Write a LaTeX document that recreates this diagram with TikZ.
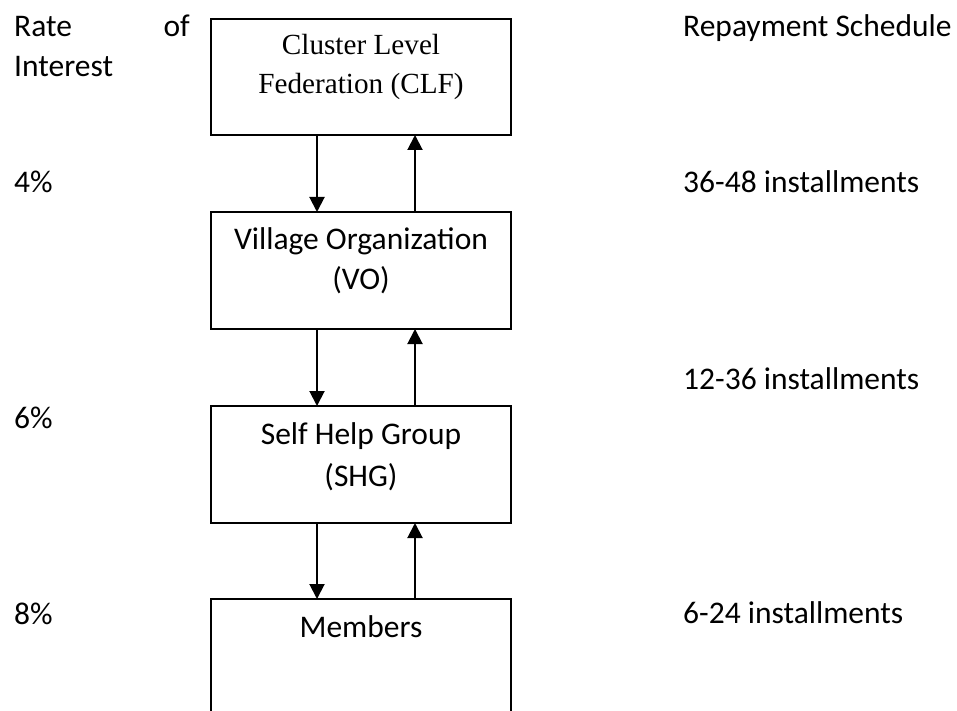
\documentclass[tikz,border=0pt]{standalone}
\usepackage{fontspec}
\setmainfont{Carlito}
\newfontfamily\timesfont{Liberation Serif}
\usetikzlibrary{arrows.meta}
\begin{document}
\begin{tikzpicture}[x=1pt,y=-1pt,
  box/.style={draw=none,minimum width=300pt,inner sep=0pt,outer sep=0pt},
  frame/.style={line width=2pt,black},
  txt/.style={inner sep=0pt,anchor=base,font=\fontsize{31.5}{38}\selectfont},
  txtw/.style={txt,anchor=base west},
  ser/.style={inner sep=0pt,anchor=base,font=\timesfont\fontsize{29.2}{35}\selectfont},
  arr/.style={line width=2pt,-{Triangle[width=15pt,length=15pt]}}]
\useasboundingbox (0,0) rectangle (957,711);
\fill[white] (0,0) rectangle (957,711);

% boxes
\node[box,minimum height=116pt] (clf) at (361,77) {};
\node[box,minimum height=117pt] (vo) at (361,270.5) {};
\node[box,minimum height=117pt] (shg) at (361,464.5) {};
\node[box,minimum height=114pt] (mem) at (361,656) {};
\draw[frame] (clf.south west) rectangle (clf.north east);
\draw[frame] (vo.south west) rectangle (vo.north east);
\draw[frame] (shg.south west) rectangle (shg.north east);
\draw[frame] (mem.south west) |- (mem.north east) -- (mem.south east);

% box texts
\node[ser] (clf1) at (361,55) {Cluster Level};
\node[ser] (clf2) at (361,94) {Federation (CLF)};
\node[txt] (vo1) at (361,249) {Village Organization};
\node[txt] (vo2) at (361,289) {(VO)};
\node[txt] (shg1) at (361,444) {Self Help Group};
\node[txt] (shg2) at (361,486) {(SHG)};
\node[txt] (mem1) at (361,637) {Members};

% arrows
\coordinate (dn) at (317,0);
\coordinate (up) at (415,0);
\draw[arr] (clf.south -| dn) -- (vo.north -| dn);
\draw[arr] (vo.north -| up) -- (clf.south -| up);
\draw[arr] (vo.south -| dn) -- (shg.north -| dn);
\draw[arr] (shg.north -| up) -- (vo.south -| up);
\draw[arr] (shg.south -| dn) -- (mem.north -| dn);
\draw[arr] (mem.north -| up) -- (shg.south -| up);

% left column
\node[txtw] (rate) at (14,37) {Rate};
\node[txt,anchor=base east] (of) at (190,37) {of};
\node[txtw] (interest) at (14,77) {Interest};
\node[txtw] (r4) at (14,193) {4\%};
\node[txtw] (r6) at (14,428) {6\%};
\node[txtw] (r8) at (14,624) {8\%};

% right column
\node[txtw] (rs) at (683,37) {Repayment Schedule};
\node[txtw] (s1) at (683,193) {36-48 installments};
\node[txtw] (s2) at (683,389) {12-36 installments};
\node[txtw] (s3) at (683,623) {6-24 installments};
\end{tikzpicture}
\end{document}
